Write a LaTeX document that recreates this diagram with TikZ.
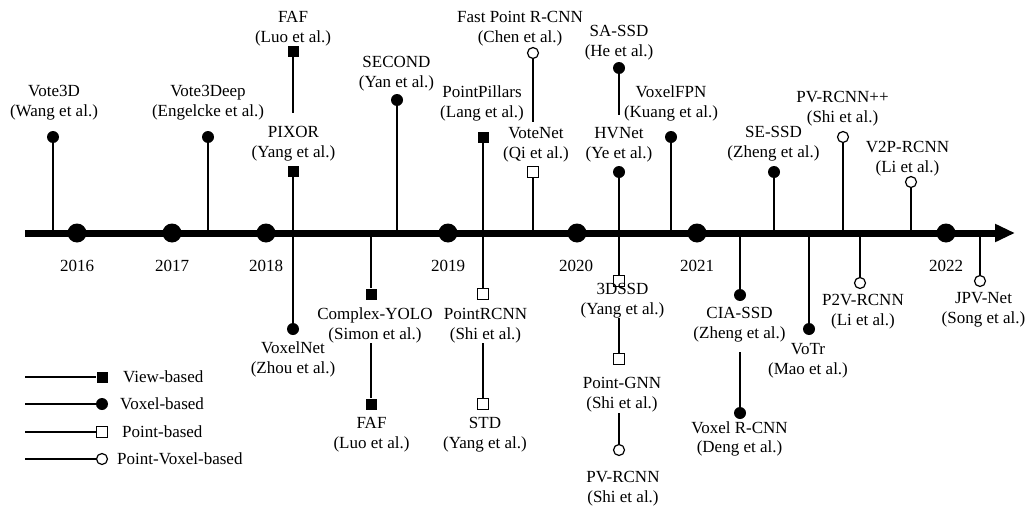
\documentclass[tikz,border=0pt]{standalone}
\usepackage{fontspec}
\setmainfont{Liberation Serif}
\usetikzlibrary{arrows.meta}
\begin{document}
\begin{tikzpicture}[x=1pt,y=-1pt,
  lab/.style={align=center,inner sep=0pt,font=\fontsize{17}{19.7}\selectfont},
  leglab/.style={anchor=west,inner sep=0pt,font=\fontsize{17}{19.7}\selectfont},
  fsq/.style={rectangle,fill=black,minimum size=11pt,inner sep=0pt},
  osq/.style={rectangle,draw=black,fill=white,line width=1.2pt,minimum size=10.5pt,inner sep=0pt},
  fci/.style={circle,fill=black,minimum size=12pt,inner sep=0pt},
  oci/.style={circle,draw=black,fill=white,line width=1.2pt,minimum size=11pt,inner sep=0pt},
  yeardot/.style={circle,fill=black,minimum size=19pt,inner sep=0pt},
  yearlab/.style={inner sep=0pt,font=\fontsize{17}{19.7}\selectfont},
  stem/.style={line width=1.3pt},
  axisline/.style={line width=7pt,-{Triangle[length=20pt,width=17pt]}}
]
\useasboundingbox[fill=white] (0,0) rectangle (1026,506);

% ---------- axis ----------
\coordinate (axL) at (25,233);
\coordinate (axR) at (1015,233);

% axis attachment points
\coordinate (a-vote3d) at (53,233);
\coordinate (a-vote3deep) at (208,233);
\coordinate (a-second) at (397,233);
\coordinate (a-cyolo) at (371,233);
\coordinate (a-votenet) at (533,233);
\coordinate (a-voxelfpn) at (671,233);
\coordinate (a-ciassd) at (740,233);
\coordinate (a-sessd) at (774,233);
\coordinate (a-votr) at (809,233);
\coordinate (a-pvpp) at (843,233);
\coordinate (a-p2v) at (860,233);
\coordinate (a-v2p) at (911,233);
\coordinate (a-jpv) at (980,233);

% free stem ends
\coordinate (e-faf1) at (293,113);
\coordinate (e-fprcnn) at (533,122);
\coordinate (e-sassd) at (619,115);
\coordinate (e-cyolo) at (371,343);
\coordinate (e-prcnn) at (483,343);
\coordinate (e-3dssd) at (619,318);
\coordinate (e-pgnn) at (619,413);
\coordinate (e-ciassd) at (740,352);

% ---------- markers ----------
\node[fci] (m-vote3d) at (53,137) {};
\node[fci] (m-vote3deep) at (208,137) {};
\node[fsq] (m-faf1) at (293,51) {};
\node[fsq] (m-pixor) at (293,171) {};
\node[fci] (m-voxelnet) at (293,329) {};
\node[fci] (m-second) at (397,100) {};
\node[fsq] (m-cyolo) at (371,294) {};
\node[fsq] (m-faf2) at (371,404) {};
\node[fsq] (m-pp) at (483,137) {};
\node[osq] (m-prcnn) at (483,294) {};
\node[osq] (m-std) at (483,404) {};
\node[oci] (m-fprcnn) at (533,53) {};
\node[osq] (m-votenet) at (533,172) {};
\node[fci] (m-sassd) at (619,68) {};
\node[fci] (m-hvnet) at (619,172) {};
\node[osq] (m-3dssd) at (619,281) {};
\node[osq] (m-pgnn) at (619,359) {};
\node[oci] (m-pvrcnn) at (619,450) {};
\node[fci] (m-voxelfpn) at (671,137) {};
\node[fci] (m-ciassd) at (740,295) {};
\node[fci] (m-vrcnn) at (740,413) {};
\node[fci] (m-sessd) at (774,172) {};
\node[fci] (m-votr) at (809,329) {};
\node[oci] (m-pvpp) at (843,137) {};
\node[oci] (m-p2v) at (860,283) {};
\node[oci] (m-v2p) at (911,182) {};
\node[oci] (m-jpv) at (980,281) {};

% ---------- stems ----------
\draw[stem] (m-vote3d) -- (a-vote3d);
\draw[stem] (m-vote3deep) -- (a-vote3deep);
\draw[stem] (m-faf1) -- (e-faf1);
\draw[stem] (m-pixor) -- (m-voxelnet);
\draw[stem] (m-second) -- (a-second);
\draw[stem] (a-cyolo) -- (m-cyolo);
\draw[stem] (e-cyolo) -- (m-faf2);
\draw[stem] (m-pp) -- (m-prcnn);
\draw[stem] (e-prcnn) -- (m-std);
\draw[stem] (m-fprcnn) -- (e-fprcnn);
\draw[stem] (m-votenet) -- (a-votenet);
\draw[stem] (m-sassd) -- (e-sassd);
\draw[stem] (m-hvnet) -- (m-3dssd);
\draw[stem] (e-3dssd) -- (m-pgnn);
\draw[stem] (e-pgnn) -- (m-pvrcnn);
\draw[stem] (m-voxelfpn) -- (a-voxelfpn);
\draw[stem] (a-ciassd) -- (m-ciassd);
\draw[stem] (e-ciassd) -- (m-vrcnn);
\draw[stem] (m-sessd) -- (a-sessd);
\draw[stem] (a-votr) -- (m-votr);
\draw[stem] (m-pvpp) -- (a-pvpp);
\draw[stem] (a-p2v) -- (m-p2v);
\draw[stem] (m-v2p) -- (a-v2p);
\draw[stem] (a-jpv) -- (m-jpv);

% axis on top of stem ends
\draw[axisline] (axL) -- (axR);

% ---------- years ----------
\node[yeardot] (y16) at (77,233) {};
\node[yeardot] (y17) at (172,233) {};
\node[yeardot] (y18) at (266,233) {};
\node[yeardot] (y19) at (448,233) {};
\node[yeardot] (y20) at (577,233) {};
\node[yeardot] (y21) at (697,233) {};
\node[yeardot] (y22) at (946,233) {};
\node[yearlab] (t16) at (77,266) {2016};
\node[yearlab] (t17) at (172,266) {2017};
\node[yearlab] (t18) at (266,266) {2018};
\node[yearlab] (t19) at (448,266) {2019};
\node[yearlab] (t20) at (576,266) {2020};
\node[yearlab] (t21) at (697,266) {2021};
\node[yearlab] (t22) at (946,266) {2022};

% ---------- labels ----------
\node[lab] (l-vote3d) at (54,103) {Vote3D\\(Wang et al.)};
\node[lab] (l-vote3deep) at (208,103) {Vote3Deep\\(Engelcke et al.)};
\node[lab] (l-faf1) at (293,29) {FAF\\(Luo et al.)};
\node[lab] (l-pixor) at (293.5,144) {PIXOR\\(Yang et al.)};
\node[lab] (l-voxelnet) at (293,359.5) {VoxelNet\\(Zhou et al.)};
\node[lab] (l-second) at (396.5,73.5) {SECOND\\(Yan et al.)};
\node[lab] (l-cyolo) at (375,325.5) {Complex-YOLO\\(Simon et al.)};
\node[lab] (l-faf2) at (371.5,434.5) {FAF\\(Luo et al.)};
\node[lab] (l-pp) at (482,103.5) {PointPillars\\(Lang et al.)};
\node[lab] (l-prcnn) at (485.5,325.5) {PointRCNN\\(Shi et al.)};
\node[lab] (l-std) at (485,434.5) {STD\\(Yang et al.)};
\node[lab] (l-fprcnn) at (520,28.5) {Fast Point R-CNN\\(Chen et al.)};
\node[lab] (l-votenet) at (536,144.5) {VoteNet\\(Qi et al.)};
\node[lab] (l-sassd) at (619,42.5) {SA-SSD\\(He et al.)};
\node[lab] (l-hvnet) at (619,144.5) {HVNet\\(Ye et al.)};
\node[lab] (l-3dssd) at (622.5,300.5) {3DSSD\\(Yang et al.)};
\node[lab] (l-pgnn) at (622,394.5) {Point-GNN\\(Shi et al.)};
\node[lab] (l-pvrcnn) at (623,489) {PV-RCNN\\(Shi et al.)};
\node[lab] (l-voxelfpn) at (671,103.5) {VoxelFPN\\(Kuang et al.)};
\node[lab] (l-ciassd) at (739.5,324.5) {CIA-SSD\\(Zheng et al.)};
\node[lab] (l-vrcnn) at (739.5,439) {Voxel R-CNN\\(Deng et al.)};
\node[lab] (l-sessd) at (773.5,144) {SE-SSD\\(Zheng et al.)};
\node[lab] (l-votr) at (808,360.5) {VoTr\\(Mao et al.)};
\node[lab] (l-pvpp) at (842.5,109) {PV-RCNN++\\(Shi et al.)};
\node[lab] (l-p2v) at (863,311.5) {P2V-RCNN\\(Li et al.)};
\node[lab] (l-v2p) at (907.5,159) {V2P-RCNN\\(Li et al.)};
\node[lab] (l-jpv) at (983.5,309.5) {JPV-Net\\(Song et al.)};

% ---------- legend ----------
\coordinate (g1) at (25,377);
\coordinate (g2) at (25,404);
\coordinate (g3) at (25,432);
\coordinate (g4) at (25,459);
\node[fsq] (gm1) at (102,377) {};
\node[fci] (gm2) at (102,404) {};
\node[osq] (gm3) at (102,432) {};
\node[oci] (gm4) at (102,459) {};
\draw[stem] (g1) -- (gm1);
\draw[stem] (g2) -- (gm2);
\draw[stem] (g3) -- (gm3);
\draw[stem] (g4) -- (gm4);
\node[leglab] (gl1) at (123,377) {View-based};
\node[leglab] (gl2) at (120,404) {Voxel-based};
\node[leglab] (gl3) at (122,432) {Point-based};
\node[leglab] (gl4) at (117,459) {Point-Voxel-based};
\end{tikzpicture}
\end{document}
